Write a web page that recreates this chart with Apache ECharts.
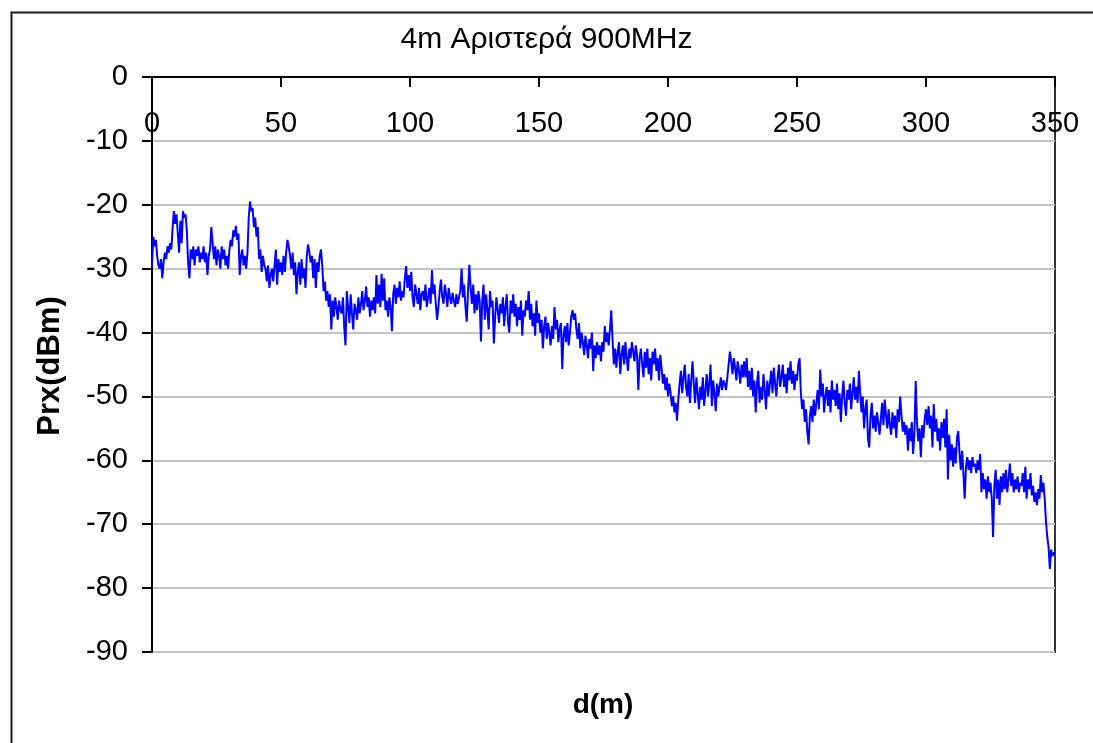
<!DOCTYPE html>
<html>
<head>
<meta charset="utf-8">
<script src="https://cdn.jsdelivr.net/npm/echarts@6/dist/echarts.min.js"></script>
<style>
  html, body { margin: 0; padding: 0; background: #ffffff; }
  #chart { width: 1093px; height: 743px; }
</style>
</head>
<body>
<div id="chart"></div>
<script>
// Received power (dBm) sampled every 0.5 m along the route
const stepMeters = 0.5;
const prxValues = [
  // 0 – 9.5 m
  -29.5, -25.0, -26.5, -25.5, -28.0, -29.5, -30.0, -28.5, -31.5, -29.0, -27.5, -28.5, -26.5, -27.5, -26.0, -27.0, -23.5, -21.0, -23.0, -21.5,
  // 10 – 19.5 m
  -24.5, -27.5, -22.5, -26.0, -21.0, -22.0, -21.5, -24.0, -29.0, -31.5, -27.0, -28.5, -26.5, -29.5, -27.0, -28.0, -26.5, -29.0, -27.5, -28.5,
  // 20 – 29.5 m
  -26.5, -29.0, -27.5, -31.0, -28.0, -27.0, -23.5, -26.0, -28.5, -26.5, -29.5, -27.0, -28.0, -30.0, -26.5, -28.5, -27.0, -29.5, -28.0, -30.0,
  // 30 – 39.5 m
  -27.0, -25.5, -26.5, -24.0, -25.0, -23.3, -25.5, -24.5, -31.0, -28.0, -27.0, -29.5, -28.0, -30.0, -27.5, -22.0, -19.5, -21.0, -20.5, -23.5,
  // 40 – 49.5 m
  -22.0, -25.0, -23.5, -28.5, -27.0, -30.5, -28.0, -29.5, -30.0, -32.0, -29.5, -33.0, -31.0, -30.0, -32.0, -29.5, -27.0, -32.5, -28.5, -30.5,
  // 50 – 59.5 m
  -29.0, -31.0, -28.0, -30.5, -27.5, -25.5, -26.5, -28.0, -30.0, -27.5, -31.0, -29.0, -34.0, -30.5, -29.0, -32.5, -28.5, -31.5, -30.0, -33.0,
  // 60 – 69.5 m
  -28.0, -26.2, -27.5, -29.0, -28.0, -31.5, -28.5, -33.0, -29.0, -30.5, -28.0, -27.0, -29.5, -33.5, -32.0, -35.0, -33.5, -36.0, -34.0, -39.5,
  // 70 – 79.5 m
  -35.0, -37.5, -34.5, -36.0, -38.0, -35.0, -36.5, -37.0, -34.5, -39.0, -42.0, -33.5, -36.0, -38.5, -34.0, -37.0, -39.5, -35.5, -36.5, -38.0,
  // 80 – 89.5 m
  -34.5, -37.0, -35.5, -33.5, -36.5, -35.0, -32.8, -36.0, -34.5, -37.5, -35.0, -36.5, -34.5, -37.0, -31.0, -35.5, -32.5, -36.0, -30.8, -35.0,
  // 90 – 99.5 m
  -31.5, -36.5, -35.0, -37.5, -34.5, -36.0, -39.8, -34.0, -32.5, -35.5, -33.0, -34.5, -32.0, -35.0, -33.5, -34.5, -31.5, -29.6, -33.0, -31.0,
  // 100 – 109.5 m
  -33.5, -30.5, -34.5, -36.0, -32.5, -34.0, -35.5, -33.0, -36.5, -34.0, -33.5, -35.0, -32.5, -36.0, -34.5, -33.0, -35.5, -30.2, -34.0, -32.5,
  // 110 – 119.5 m
  -35.5, -38.0, -36.0, -33.5, -31.7, -34.5, -35.5, -32.5, -34.0, -36.0, -33.0, -34.5, -35.5, -33.8, -35.0, -36.0, -34.0, -35.5, -34.5, -33.5,
  // 120 – 129.5 m
  -30.0, -34.5, -32.5, -36.0, -38.3, -33.5, -29.4, -33.0, -35.5, -32.5, -37.0, -34.0, -36.5, -33.5, -35.0, -41.4, -35.0, -32.5, -38.0, -34.0,
  // 130 – 139.5 m
  -36.5, -39.5, -33.5, -36.0, -35.0, -41.7, -37.5, -34.5, -36.5, -38.5, -35.5, -37.0, -34.5, -39.0, -36.0, -34.0, -38.5, -40.0, -35.0, -37.0,
  // 140 – 149.5 m
  -34.0, -37.5, -35.5, -39.0, -36.0, -38.0, -35.0, -40.5, -36.5, -37.5, -35.0, -36.5, -33.5, -38.0, -35.5, -39.0, -37.0, -40.5, -35.0, -38.5,
  // 150 – 159.5 m
  -37.0, -40.0, -38.0, -42.5, -39.0, -37.5, -41.0, -38.5, -40.0, -42.0, -39.0, -41.0, -36.0, -39.5, -38.0, -41.5, -39.5, -38.5, -45.7, -40.5,
  // 160 – 169.5 m
  -39.0, -41.5, -38.5, -42.0, -40.0, -37.5, -36.5, -38.0, -37.0, -39.5, -41.0, -38.5, -42.5, -40.0, -41.5, -43.5, -40.5, -42.0, -44.0, -41.0,
  // 170 – 179.5 m
  -42.5, -40.0, -46.0, -42.0, -44.0, -41.5, -43.5, -42.0, -44.5, -41.5, -43.0, -39.0, -41.5, -40.0, -42.0, -39.5, -36.5, -41.0, -45.0, -42.5,
  // 180 – 189.5 m
  -45.5, -43.0, -41.5, -46.5, -43.5, -42.0, -45.0, -41.5, -44.0, -46.0, -42.5, -44.0, -41.5, -43.0, -44.5, -42.0, -43.5, -49.0, -44.0, -42.5,
  // 190 – 199.5 m
  -45.0, -47.0, -43.0, -45.5, -42.5, -46.5, -44.0, -47.5, -43.0, -45.0, -42.5, -46.0, -44.0, -47.5, -43.5, -45.5, -48.0, -46.5, -49.0, -47.0,
  // 200 – 209.5 m
  -50.0, -48.0, -49.5, -51.5, -50.0, -52.5, -51.0, -53.8, -50.5, -48.0, -46.0, -49.5, -47.0, -45.0, -48.5, -50.0, -46.5, -51.0, -47.5, -44.5,
  // 210 – 219.5 m
  -48.0, -51.0, -47.0, -49.5, -52.0, -48.5, -50.5, -47.0, -51.5, -49.0, -46.5, -50.0, -48.0, -45.0, -51.5, -47.5, -49.5, -52.3, -48.0, -50.0,
  // 220 – 229.5 m
  -48.5, -47.0, -49.0, -47.5, -48.0, -49.0, -47.0, -45.0, -43.0, -44.5, -46.5, -44.0, -45.5, -47.5, -44.5, -46.0, -48.0, -45.0, -47.0, -44.5,
  // 230 – 239.5 m
  -47.0, -44.0, -48.5, -46.0, -49.0, -45.5, -50.0, -47.5, -52.5, -48.0, -46.0, -51.0, -48.5, -50.5, -46.5, -49.0, -52.0, -47.5, -50.0, -48.0,
  // 240 – 249.5 m
  -46.0, -49.5, -45.5, -48.0, -50.0, -47.0, -45.0, -48.5, -47.0, -45.0, -48.5, -46.5, -49.5, -45.5, -47.5, -44.5, -48.0, -46.0, -49.0, -46.5,
  // 250 – 259.5 m
  -47.5, -45.0, -44.0, -49.5, -52.0, -50.5, -54.0, -52.0, -55.5, -57.5, -53.0, -51.5, -54.0, -50.5, -53.0, -51.0, -49.0, -52.0, -45.8, -50.0,
  // 260 – 269.5 m
  -48.0, -52.5, -50.0, -48.5, -51.5, -49.0, -52.5, -47.5, -50.5, -49.0, -51.5, -48.0, -52.0, -49.5, -54.0, -50.0, -47.5, -51.0, -53.0, -49.0,
  // 270 – 279.5 m
  -50.5, -48.0, -52.0, -49.5, -47.0, -50.5, -48.5, -51.0, -46.0, -49.5, -52.5, -50.0, -55.0, -52.0, -50.5, -56.5, -58.0, -53.0, -51.0, -55.0,
  // 280 – 289.5 m
  -53.0, -55.5, -52.5, -54.0, -56.0, -53.5, -51.0, -54.5, -50.5, -53.0, -55.0, -52.0, -54.5, -56.0, -52.5, -55.0, -53.0, -56.5, -52.0, -54.0,
  // 290 – 299.5 m
  -50.0, -53.0, -55.5, -54.0, -56.0, -54.5, -58.5, -55.0, -57.0, -54.0, -59.0, -56.0, -47.6, -54.0, -57.0, -55.0, -59.5, -54.5, -56.5, -53.5,
  // 300 – 309.5 m
  -52.0, -54.5, -51.5, -55.0, -53.0, -58.0, -51.2, -55.5, -53.5, -57.0, -55.0, -58.5, -54.0, -56.5, -53.5, -58.0, -52.0, -63.0, -56.0, -60.0,
  // 310 – 319.5 m
  -57.5, -61.0, -58.0, -60.5, -56.5, -55.4, -59.0, -61.5, -58.5, -62.0, -66.0, -61.0, -59.5, -61.5, -60.0, -62.0, -59.5, -61.0, -60.5, -62.0,
  // 320 – 329.5 m
  -60.0, -61.5, -59.0, -65.0, -62.0, -64.5, -63.0, -66.0, -62.5, -65.0, -63.5, -66.0, -72.0, -64.0, -61.5, -66.0, -63.0, -67.0, -62.5, -65.0,
  // 330 – 339.5 m
  -62.0, -64.5, -61.5, -65.0, -63.0, -60.5, -64.0, -62.0, -65.0, -63.0, -64.5, -62.5, -65.0, -63.5, -64.0, -62.0, -65.0, -61.0, -66.0, -63.0,
  // 340 – 350 m
  -64.5, -62.0, -65.5, -64.0, -66.5, -65.0, -67.0, -64.5, -66.0, -62.3, -65.0, -63.5, -66.0, -69.5, -72.0, -73.5, -77.0, -74.0, -75.0, -74.5,
  -74.5
];

// Axis ranges and tick steps
const xRange = [0, 350];
const xStep = 50;
const yRange = [-90, 0];
const yStep = 10;

const chartTitle = '4m Αριστερά 900MHz';
const xAxisTitle = 'd(m)';
const yAxisTitle = 'Prx(dBm)';

const seriesData = prxValues.map((v, i) => [i * stepMeters, v]);

const chart = echarts.init(document.getElementById('chart'), null, { renderer: 'canvas' });

const fontFamily = 'Arial, "Liberation Sans", Helvetica, sans-serif';

chart.setOption({
  backgroundColor: '#ffffff',
  animation: false,
  title: {
    text: chartTitle,
    left: 'center',
    top: 20,
    textStyle: { fontFamily, fontSize: 30, fontWeight: 'normal', color: '#000' }
  },
  graphic: [
    {
      // outer chart frame
      type: 'rect',
      left: 9,
      top: 10,
      z: -1,
      shape: { width: 1200, height: 900 },
      style: { fill: 'none', stroke: '#1a1a1a', lineWidth: 2 }
    },
    {
      type: 'text',
      x: 603,
      y: 705,
      style: { text: xAxisTitle, align: 'center', verticalAlign: 'middle',
               fontFamily, fontSize: 28, fontWeight: 'bold', fill: '#000' }
    },
    {
      type: 'text',
      x: 50,
      y: 366,
      rotation: Math.PI / 2,
      style: { text: yAxisTitle, align: 'center', verticalAlign: 'middle',
               fontFamily, fontSize: 31, fontWeight: 'bold', fill: '#000' }
    }
  ],
  grid: {
    left: 152,
    top: 77,
    right: 38,
    bottom: 91,
    outerBoundsMode: 'none',
    containLabel: false,
    show: true,
    borderColor: '#333',
    borderWidth: 2,
    backgroundColor: 'transparent'
  },
  xAxis: {
    type: 'value',
    position: 'top',
    min: xRange[0],
    max: xRange[1],
    interval: xStep,
    axisLine: { onZero: false, lineStyle: { color: '#000', width: 2 } },
    axisTick: { inside: true, length: 10, lineStyle: { color: '#000', width: 2 } },
    axisLabel: { inside: true, margin: 32, fontFamily, fontSize: 29, color: '#000', verticalAlign: 'top' },
    splitLine: { show: false }
  },
  yAxis: {
    type: 'value',
    min: yRange[0],
    max: yRange[1],
    interval: yStep,
    axisLine: { onZero: false, lineStyle: { color: '#000', width: 2 } },
    axisTick: { length: 10, lineStyle: { color: '#000', width: 2 } },
    axisLabel: { margin: 24, fontFamily, fontSize: 29, color: '#000' },
    splitLine: { lineStyle: { color: '#c4c4c4', width: 2 } }
  },
  series: [{
    type: 'line',
    data: seriesData,
    showSymbol: false,
    symbol: 'none',
    lineStyle: { color: '#0000ff', width: 2 },
    z: 3
  }]
});
</script>
</body>
</html>
